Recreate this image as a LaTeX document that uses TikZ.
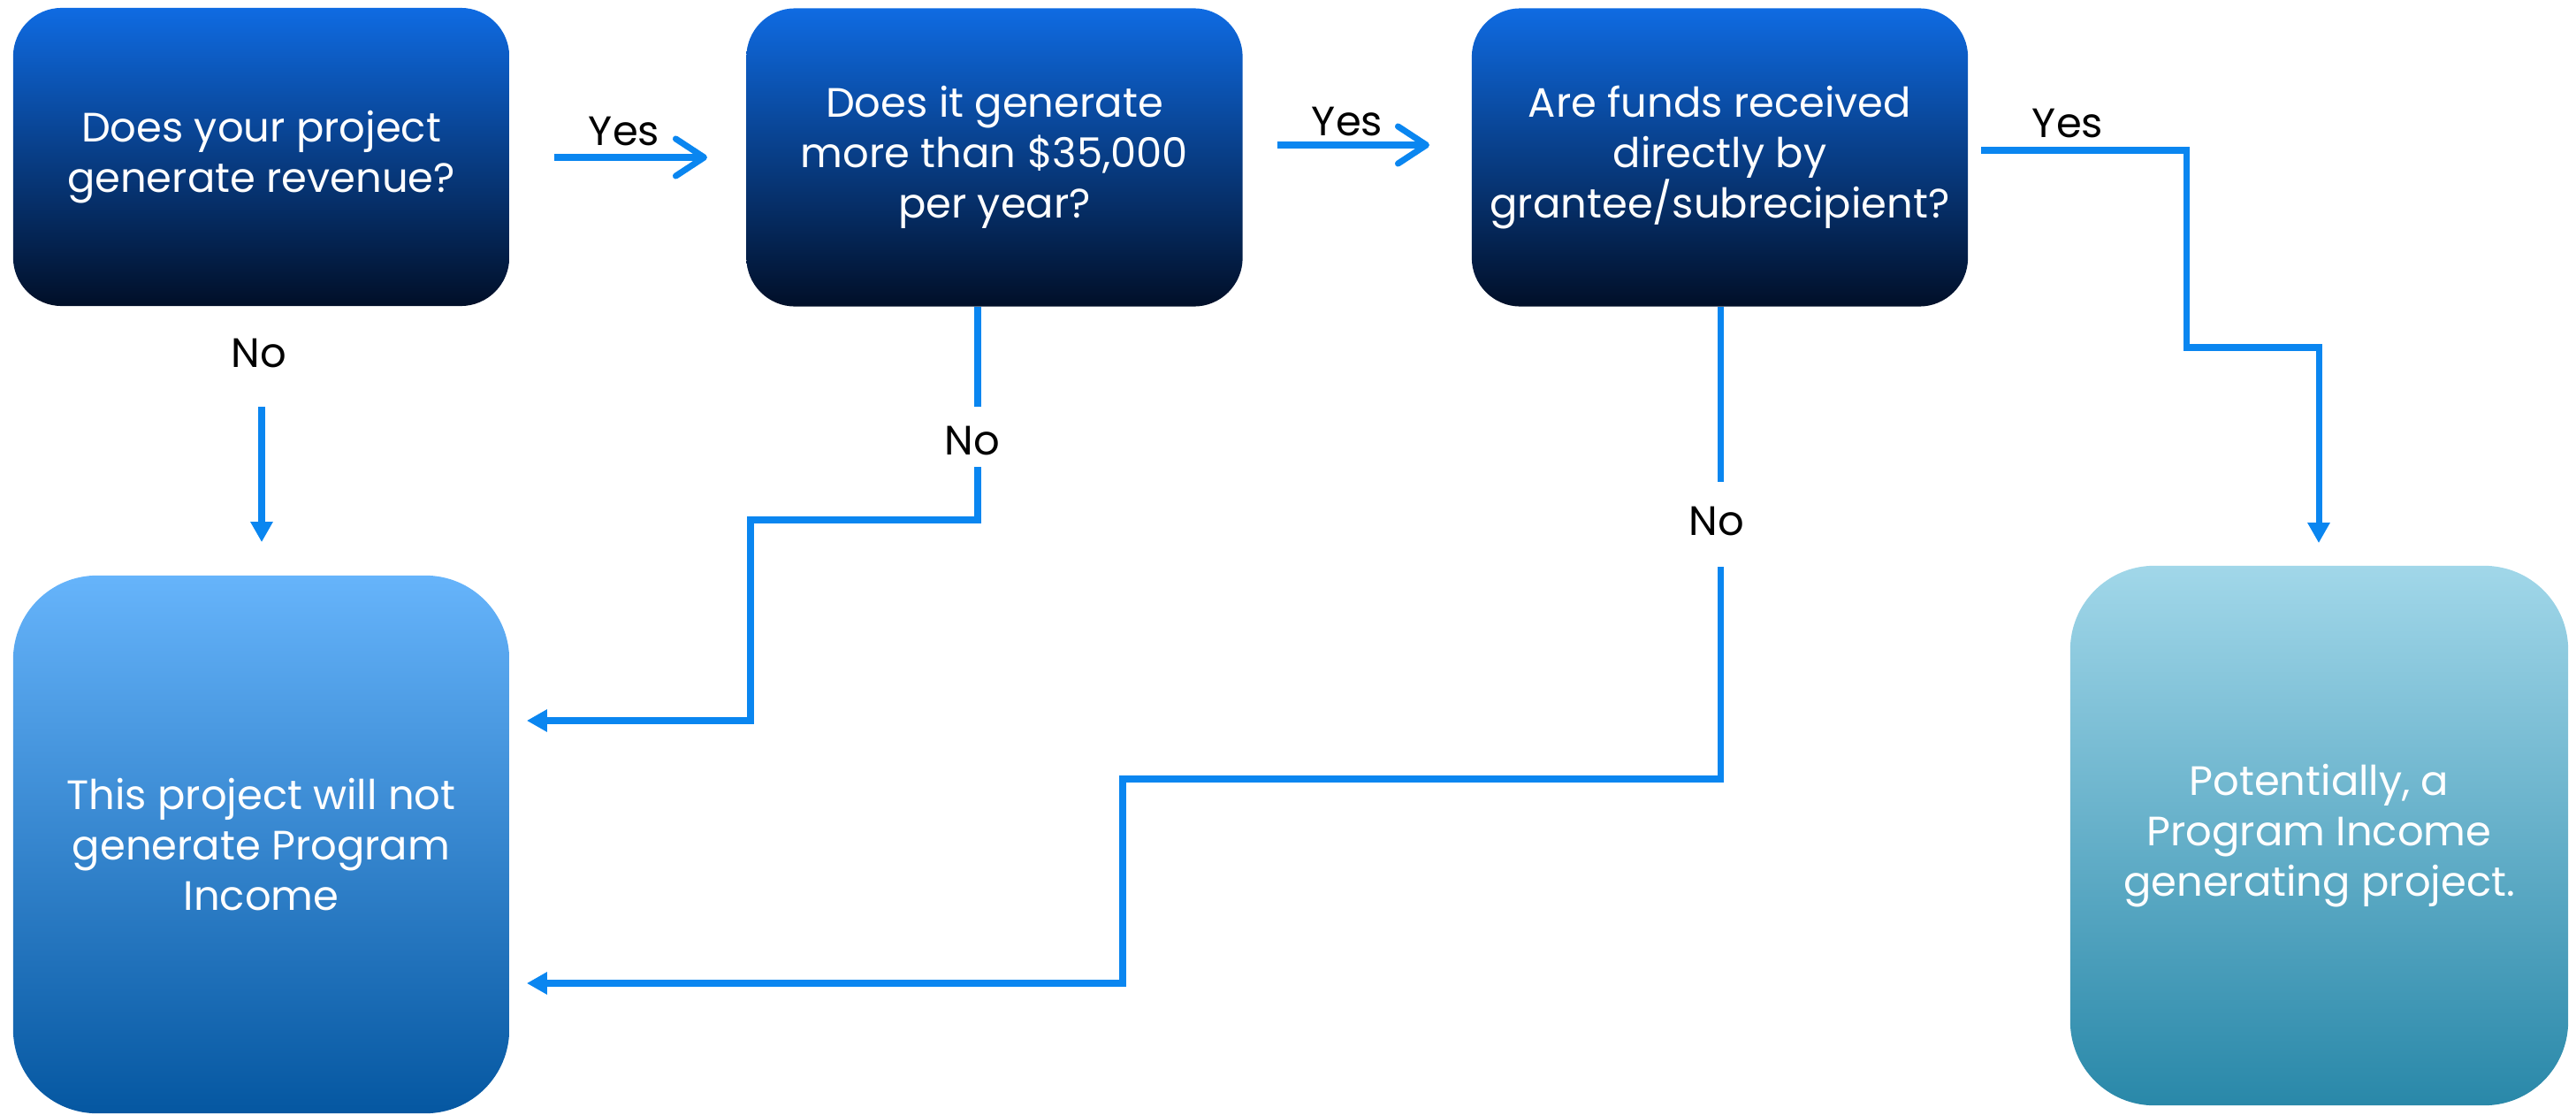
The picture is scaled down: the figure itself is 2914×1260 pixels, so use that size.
\documentclass[tikz,border=0pt]{standalone}
\usepackage{fontspec}
\setmainfont{Poppins}
\usetikzlibrary{arrows.meta}
\definecolor{lnk}{HTML}{0A86F0}
\definecolor{qtop}{HTML}{0F6BE2}
\definecolor{qmid}{HTML}{052656}
\definecolor{qbot}{HTML}{010F28}
\definecolor{ntop}{HTML}{66B4FB}
\definecolor{nmid}{HTML}{0A88F4}
\definecolor{nbot}{HTML}{0557A1}
\definecolor{ptop}{HTML}{A1D7E9}
\definecolor{pmid}{HTML}{6CC0DE}
\definecolor{pbot}{HTML}{2988A9}
\begin{document}
\begin{tikzpicture}[x=0.01cm,y=-0.01cm,
  txt/.style={font=\fontsize{13.2pt}{16.2pt}\selectfont, align=center},
  qbox/.style={txt, text=white, rounded corners=0.55cm, minimum width=5.61cm, minimum height=3.37cm, inner sep=0pt,
     top color=qtop, middle color=qmid, bottom color=qbot},
  nbox/.style={txt, text=white, rounded corners=0.95cm, minimum width=5.61cm, minimum height=6.08cm, inner sep=0pt,
     top color=ntop, middle color=nmid, bottom color=nbot},
  pbox/.style={txt, text=white, rounded corners=0.95cm, minimum width=5.63cm, minimum height=6.10cm, inner sep=0pt,
     top color=ptop, middle color=pmid, bottom color=pbot},
  lbl/.style={txt, text=black, inner sep=0pt},
  conn/.style={draw=lnk, line width=2pt},
  chev/.style={conn, -{Straight Barb[length=0.32cm, width=0.42cm, round]}},
  tri/.style={conn, -{Triangle[length=0.23cm, width=0.24cm]}},
]
\useasboundingbox (0,0) rectangle (2914,1260);

% boxes
\node[qbox] (q1) at (295.5,177.5) {Does your project\\generate revenue?};
\node[qbox] (q2) at (1125,178) {Does it generate\\more than \$35,000\\per year?};
\node[qbox] (q3) at (1945.5,178) {Are funds received\\directly by\\grantee/subrecipient?};
\node[nbox] (nope) at (295.5,955) {This project will not\\generate Program\\Income};
\node[pbox] (pi) at (2623.5,945) {Potentially, a\\Program Income\\generating project.};

% labels
\node[lbl] (y1) at (706,149) {Yes};
\node[lbl] (y2) at (1524,138) {Yes};
\node[lbl] (y3) at (2339,140) {Yes};
\node[lbl] (n1) at (293,400) {No};
\node[lbl] (n2) at (1100,498) {No};
\node[lbl] (n3) at (1942,589) {No};

% coordinates
\coordinate (a1s) at (627,178);
\coordinate (a1e) at (800,178);
\coordinate (a2s) at (1445,164);
\coordinate (a2e) at (1617,164);
\coordinate (a3s) at (2241,170);
\coordinate (a3b) at (2473,170);
\coordinate (a3c) at (2473,393);
\coordinate (a3d) at (2623,393);
\coordinate (n1s) at (296,460);
\coordinate (n2a) at (1106,460);
\coordinate (n2b) at (1106,528);
\coordinate (n2c) at (1106,588);
\coordinate (n2d) at (849,588);
\coordinate (n2e) at (849,815);
\coordinate (n3a) at (1946,545);
\coordinate (n3b) at (1946,641);
\coordinate (n3c) at (1946,881);
\coordinate (n3d) at (1270,881);
\coordinate (n3e) at (1270,1112);

% connectors
\draw[chev] (a1s) -- (a1e);
\draw[chev] (a2s) -- (a2e);
\draw[tri] (a3s) -- (a3b) -- (a3c) -- (a3d) -- ([yshift=0.25cm]pi.north -| a3d);
\draw[tri] (n1s) -- ([yshift=0.37cm]nope.north -| n1s);
\draw[conn] (q2.south -| n2a) -- (n2a);
\draw[tri] (n2b) -- (n2c) -- (n2d) -- (n2e) -- ([xshift=0.19cm]nope.east |- n2e);
\draw[conn] (q3.south -| n3a) -- (n3a);
\draw[tri] (n3b) -- (n3c) -- (n3d) -- (n3e) -- ([xshift=0.19cm]nope.east |- n3e);
\end{tikzpicture}
\end{document}
